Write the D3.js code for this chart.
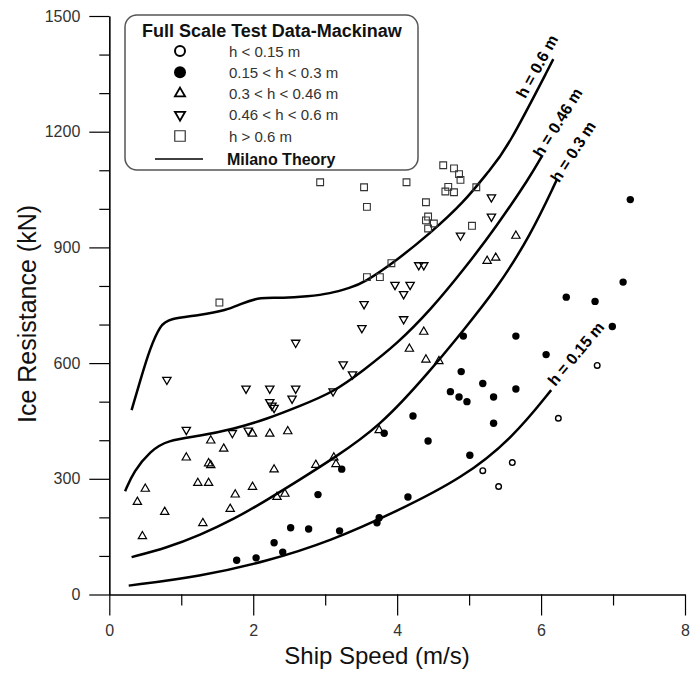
<!DOCTYPE html>
<html>
<head>
<meta charset="utf-8">
<script src="https://cdn.jsdelivr.net/npm/d3@7"></script>
<style>
  body { margin: 0; background: #fff; }
  text { font-family: 'Liberation Sans', Arial, sans-serif; }
</style>
</head>
<body>
<div id="chart"></div>
<script>
// ice resistance vs ship speed, Mackinaw full scale data + Milano theory curves

const openCircles = [[5.19,321],[5.41,280],[5.60,342],[6.24,457],[6.78,594]];
const filledCircles = [[1.77,89],[2.04,95],[2.29,134],[2.41,110],[2.52,173],[2.77,170],[2.90,259],[3.20,165],
  [3.23,325],[3.72,186],[3.75,199],[3.82,418],[4.15,253],[4.22,463],[4.43,398],[4.74,526],[4.86,512],
  [4.89,578],[4.92,670],[4.97,500],[5.01,361],[5.19,547],[5.34,512],[5.34,444],[5.65,533],[5.65,670],
  [6.07,622],[6.35,771],[6.75,760],[6.99,695],[7.14,810],[7.24,1024]];
const upTriangles = [[0.39,240],[0.46,151],[0.50,274],[0.77,214],[1.07,355],[1.23,289],[1.30,185],[1.38,340],
  [1.38,289],[1.41,335],[1.41,399],[1.59,378],[1.68,222],[1.75,259],[1.99,417],[1.99,279],[2.23,417],
  [2.29,324],[2.33,253],[2.44,261],[2.48,423],[2.87,336],[3.12,355],[3.15,338],[3.75,426],[4.17,637],
  [4.37,681],[4.40,609],[4.58,605],[5.25,865],[5.37,873],[5.65,930]];
const downTriangles = [[0.80,557],[1.07,427],[1.71,419],[1.90,534],[1.93,425],[2.23,534],[2.23,499],[2.26,490],
  [2.29,484],[2.54,508],[2.59,534],[2.59,653],[3.11,527],[3.25,597],[3.38,571],[3.51,691],[3.54,753],
  [3.97,803],[4.09,779],[4.09,714],[4.18,803],[4.30,854],[4.37,854],[4.88,931],[5.31,980],[5.31,1030]];
const squares = [[1.53,757],[2.93,1069],[3.54,1056],[3.58,1005],[3.58,823],[3.76,823],[3.92,859],[4.13,1069],
  [4.40,1017],[4.40,970],[4.43,980],[4.43,949],[4.51,962],[4.64,1113],[4.67,1045],[4.71,1057],[4.79,1105],
  [4.79,1043],[4.86,1090],[4.88,1075],[5.04,956],[5.10,1056]];

// Milano theory curves
const curve06 = [[0.31,478],[0.43,555],[0.57,641],[0.71,698],[0.82,715],[1.26,724],[1.63,737],[1.82,753],
  [2.10,772],[2.42,768],[2.75,773],[3.07,780],[3.35,796],[3.53,807],[4.00,867],[4.46,937],[4.92,1015],
  [5.29,1102],[5.52,1153],[6.17,1388]];
const curve046 = [[0.22,268],[0.34,320],[0.57,372],[0.80,400],[1.26,411],[1.73,429],[2.19,455],[2.65,489],
  [3.11,524],[3.53,581],[4.00,650],[4.46,737],[4.92,841],[5.38,954],[5.85,1084],[6.01,1136]];
const curve03 = [[0.31,97],[0.80,121],[1.26,154],[1.73,195],[2.19,245],[2.65,298],[3.09,350],[3.76,435],
  [4.46,580],[4.92,685],[5.38,792],[5.85,930],[6.22,1076]];
const curve015 = [[0.27,23],[1.26,47],[2.19,86],[3.07,138],[4.00,216],[4.92,303],[5.61,407],[6.14,530]];

const curveNames = ["h = 0.6 m", "h = 0.46 m", "h = 0.3 m", "h = 0.15 m"];
const legendTitle = "Full Scale Test Data-Mackinaw";
const legendNames = ["h < 0.15 m", "0.15 < h < 0.3 m", "0.3 < h < 0.46 m", "0.46 < h < 0.6 m", "h > 0.6 m"];
const xMajor = [0, 2, 4, 6, 8];
const xMinor = [1, 3, 5, 7];
const yMajor = [0, 300, 600, 900, 1200, 1500];
const yMinor = [100, 200, 400, 500, 700, 800, 1000, 1100, 1300, 1400];

let width = 692, height = 675;

var svg = d3.select("#chart").append("svg").attr("width", width).attr("height", height);

var x = d3.scaleLinear().domain([0, 8]).range([109.3, 685]);
var y = d3.scaleLinear().domain([0, 1500]).range([594.5, 16]);

// axes
function styleAxis(g) {
    g.select(".domain").attr("stroke", "#000").attr("stroke-width", 1.2);
    g.selectAll(".tick line").attr("stroke", "#000").attr("stroke-width", 1.2);
    g.selectAll(".tick text").attr("font-size", 16).attr("fill", "#333");
}

svg.append("g").attr("transform", "translate(0," + y(0) + ")")
    .call(d3.axisBottom(x).tickValues(xMinor).tickSize(11).tickSizeOuter(0).tickFormat(""))
    .call(styleAxis);
svg.append("g").attr("transform", "translate(0," + y(0) + ")")
    .call(d3.axisBottom(x).tickValues(xMajor).tickSize(21).tickSizeOuter(0).tickPadding(9).tickFormat(d3.format("d")))
    .call(styleAxis);
svg.append("g").attr("transform", "translate(" + x(0) + ",0)")
    .call(d3.axisLeft(y).tickValues(yMinor).tickSize(10).tickSizeOuter(0).tickFormat(""))
    .call(styleAxis);
svg.append("g").attr("transform", "translate(" + x(0) + ",0)")
    .call(d3.axisLeft(y).tickValues(yMajor).tickSize(20).tickSizeOuter(0).tickPadding(9).tickFormat(d3.format("d")))
    .call(styleAxis);

svg.append("text")
    .attr("x", 377).attr("y", 664)
    .attr("text-anchor", "middle").attr("font-size", 24).attr("fill", "#111")
    .text("Ship Speed (m/s)");
svg.append("text")
    .attr("transform", "translate(36,314) rotate(-90)")
    .attr("text-anchor", "middle").attr("font-size", 25).attr("fill", "#111")
    .text("Ice Resistance (kN)");

// theory curves
var line = d3.line().x(d => x(d[0])).y(d => y(d[1])).curve(d3.curveBasis);
var curves = [curve06, curve046, curve03, curve015];
svg.append("g").selectAll("path.theory")
    .data(curves)
    .enter().append("path")
    .attr("class", "theory")
    .attr("fill", "none").attr("stroke", "#000").attr("stroke-width", 2.5)
    .attr("d", line);

// curve labels, placed from the end of each curve
var labelOffsets = [[-28, 40], [0, 2], [2, 4], [4, -3]];
var labelAngles = [61, 58, 57, 50];
curves.forEach(function(c, i) {
    var end = c[c.length - 1];
    svg.append("text")
        .attr("transform", "translate(" + (x(end[0]) + labelOffsets[i][0]) + "," + (y(end[1]) + labelOffsets[i][1]) +
              ") rotate(" + (-labelAngles[i]) + ")")
        .attr("font-size", 16).attr("font-weight", "bold").attr("fill", "#000")
        .text(curveNames[i]);
});

// markers
var triUp = d3.symbol().type(d3.symbolTriangle).size(30);
var sq = d3.symbol().type(d3.symbolSquare).size(46);

svg.append("g").selectAll("circle.open")
    .data(openCircles).enter().append("circle")
    .attr("cx", d => x(d[0])).attr("cy", d => y(d[1])).attr("r", 2.8)
    .attr("fill", "#fff").attr("stroke", "#000").attr("stroke-width", 1.4);

svg.append("g").selectAll("circle.filled")
    .data(filledCircles).enter().append("circle")
    .attr("cx", d => x(d[0])).attr("cy", d => y(d[1])).attr("r", 3.7)
    .attr("fill", "#000");

svg.append("g").selectAll("path.up")
    .data(upTriangles).enter().append("path")
    .attr("transform", d => "translate(" + x(d[0]) + "," + y(d[1]) + ")")
    .attr("d", triUp)
    .attr("fill", "none").attr("stroke", "#000").attr("stroke-width", 1.2);

svg.append("g").selectAll("path.down")
    .data(downTriangles).enter().append("path")
    .attr("transform", d => "translate(" + x(d[0]) + "," + y(d[1]) + ") rotate(180)")
    .attr("d", triUp)
    .attr("fill", "none").attr("stroke", "#000").attr("stroke-width", 1.3);

svg.append("g").selectAll("path.sq")
    .data(squares).enter().append("path")
    .attr("transform", d => "translate(" + x(d[0]) + "," + y(d[1]) + ")")
    .attr("d", sq)
    .attr("fill", "none").attr("stroke", "#333").attr("stroke-width", 1.1);

// legend
var leg = svg.append("g");
leg.append("rect")
    .attr("x", 125).attr("y", 15).attr("width", 293).attr("height", 155)
    .attr("rx", 12).attr("ry", 12)
    .attr("fill", "#fff").attr("stroke", "#555").attr("stroke-width", 1.5);
leg.append("text")
    .attr("x", 272).attr("y", 37).attr("text-anchor", "middle")
    .attr("font-size", 18).attr("font-weight", "bold").attr("fill", "#111")
    .text(legendTitle);

var rowY = d3.scaleLinear().domain([0, 4]).range([51, 136]);
var legSym = [
    g => g.append("circle").attr("r", 5).attr("fill", "#fff").attr("stroke", "#000").attr("stroke-width", 2),
    g => g.append("circle").attr("r", 6).attr("fill", "#000"),
    g => g.append("path").attr("d", d3.symbol().type(d3.symbolTriangle).size(45)).attr("fill", "none").attr("stroke", "#000").attr("stroke-width", 1.8),
    g => g.append("path").attr("transform", "rotate(180)").attr("d", d3.symbol().type(d3.symbolTriangle).size(45)).attr("fill", "none").attr("stroke", "#000").attr("stroke-width", 1.8),
    g => g.append("path").attr("d", d3.symbol().type(d3.symbolSquare).size(110)).attr("fill", "none").attr("stroke", "#333").attr("stroke-width", 1.2)
];
legendNames.forEach(function(name, i) {
    var g = leg.append("g").attr("transform", "translate(180," + rowY(i) + ")");
    legSym[i](g);
    leg.append("text")
        .attr("x", 229).attr("y", rowY(i) + 5.5)
        .attr("font-size", 15).attr("fill", "#333")
        .text(name);
});
leg.append("line")
    .attr("x1", 155).attr("x2", 203).attr("y1", 159).attr("y2", 159)
    .attr("stroke", "#000").attr("stroke-width", 1.3);
leg.append("text")
    .attr("x", 227).attr("y", 165)
    .attr("font-size", 16).attr("font-weight", "bold").attr("fill", "#111")
    .text("Milano Theory");
</script>
</body>
</html>
